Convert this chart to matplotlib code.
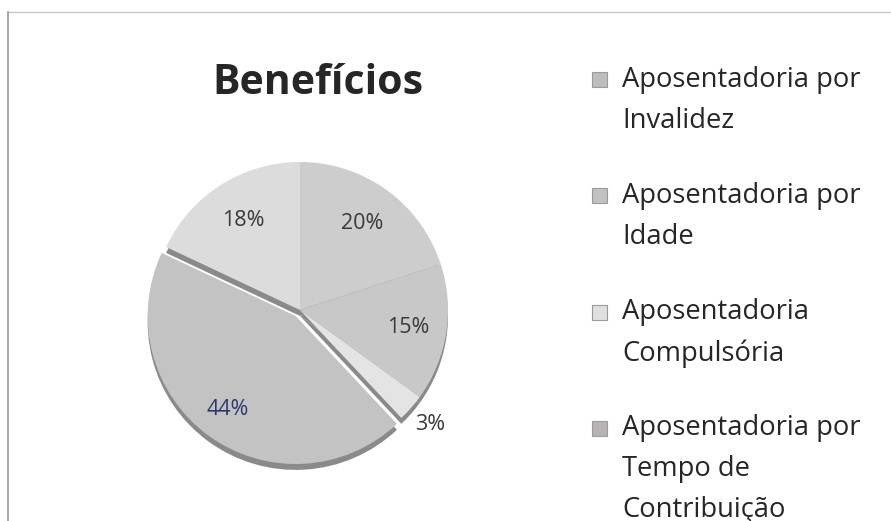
import matplotlib
matplotlib.use("Agg")
import matplotlib.pyplot as plt
import numpy as np
from matplotlib.patches import Rectangle
from matplotlib.lines import Line2D

plt.rcParams['font.family'] = ['Open Sans', 'DejaVu Sans']

# fatias no sentido horário a partir das 12h
percentuais = [20, 15, 3, 44, 18]
cores = ['#cdcdcd', '#c8c8c8', '#e4e4e4', '#c3c3c3', '#dcdcdc']
legenda = ["Aposentadoria por\nInvalidez",
           "Aposentadoria por\nIdade",
           "Aposentadoria\nCompulsória",
           "Aposentadoria por\nTempo de\nContribuição"]
cores_legenda = ['#bdbdbd', '#c2c2c2', '#e0e0e0', '#b9b3b3']

W, H = 891, 521
fig = plt.figure(figsize=(W / 100, H / 100), dpi=100)

# pie centre / radius in pixels
cx, cy, r = 300, 310, 148
half = 1.3 * r
ax = fig.add_axes([(cx - half) / W, (H - cy - half) / H, 2 * half / W, 2 * half / H])

explode = [0, 0, 0, 0.05, 0]
# 3D-ish side of the pie
ax.pie(percentuais, colors=['#8a8a8a'] * len(percentuais), startangle=90,
       counterclock=False, explode=explode, center=(0, -0.04))
wedges, _ = ax.pie(percentuais, colors=cores, startangle=90, counterclock=False,
                   explode=explode, center=(0, 0))
for w in wedges:
    w.set_linewidth(0)

label_dist = [0.72, 0.74, 1.17, 0.78, 0.72]
label_cor = ['#3a3a3a', '#3a3a3a', '#3a3a3a', '#2b3a6b', '#3a3a3a']
for w, p, d, c in zip(wedges, percentuais, label_dist, label_cor):
    ang = np.deg2rad((w.theta1 + w.theta2) / 2)
    x0, y0 = w.center
    ax.text(x0 + d * np.cos(ang), y0 + d * np.sin(ang), f"{p}%",
            ha='center', va='center', fontsize=15.5, color=c)
ax.set_xlim(-1.3, 1.3)
ax.set_ylim(-1.3, 1.3)
ax.axis('off')

fig.text(318 / W, 1 - 84 / H, "Benefícios", ha='center', va='center',
         fontsize=29.5, fontweight='bold', color='#262626')

# legend (baseline of first line every ~116 px, 40 px between lines)
for i, (lab, c) in enumerate(zip(legenda, cores_legenda)):
    base = 88 + i * 116.3
    nlin = lab.count("\n")
    fig.add_artist(Rectangle((592 / W, 1 - (base - 1) / H), 15 / W, 15 / H,
                             transform=fig.transFigure, facecolor=c,
                             edgecolor='#9a9a9a', linewidth=0.8))
    fig.text(622 / W, 1 - (base + 40 * nlin) / H, lab, ha='left', va='baseline',
             fontsize=19.7, color='#262626', linespacing=1.62)

# chart area frame (scan)
fig.add_artist(Line2D([8 / W, 1], [1 - 12 / H, 1 - 12 / H], transform=fig.transFigure,
                      color='#c8c8c8', linewidth=1))
fig.add_artist(Line2D([8 / W, 8 / W], [1 - 12 / H, 0], transform=fig.transFigure,
                      color='#9a9a9a', linewidth=1.2))

fig.savefig("out.png", dpi=100)
